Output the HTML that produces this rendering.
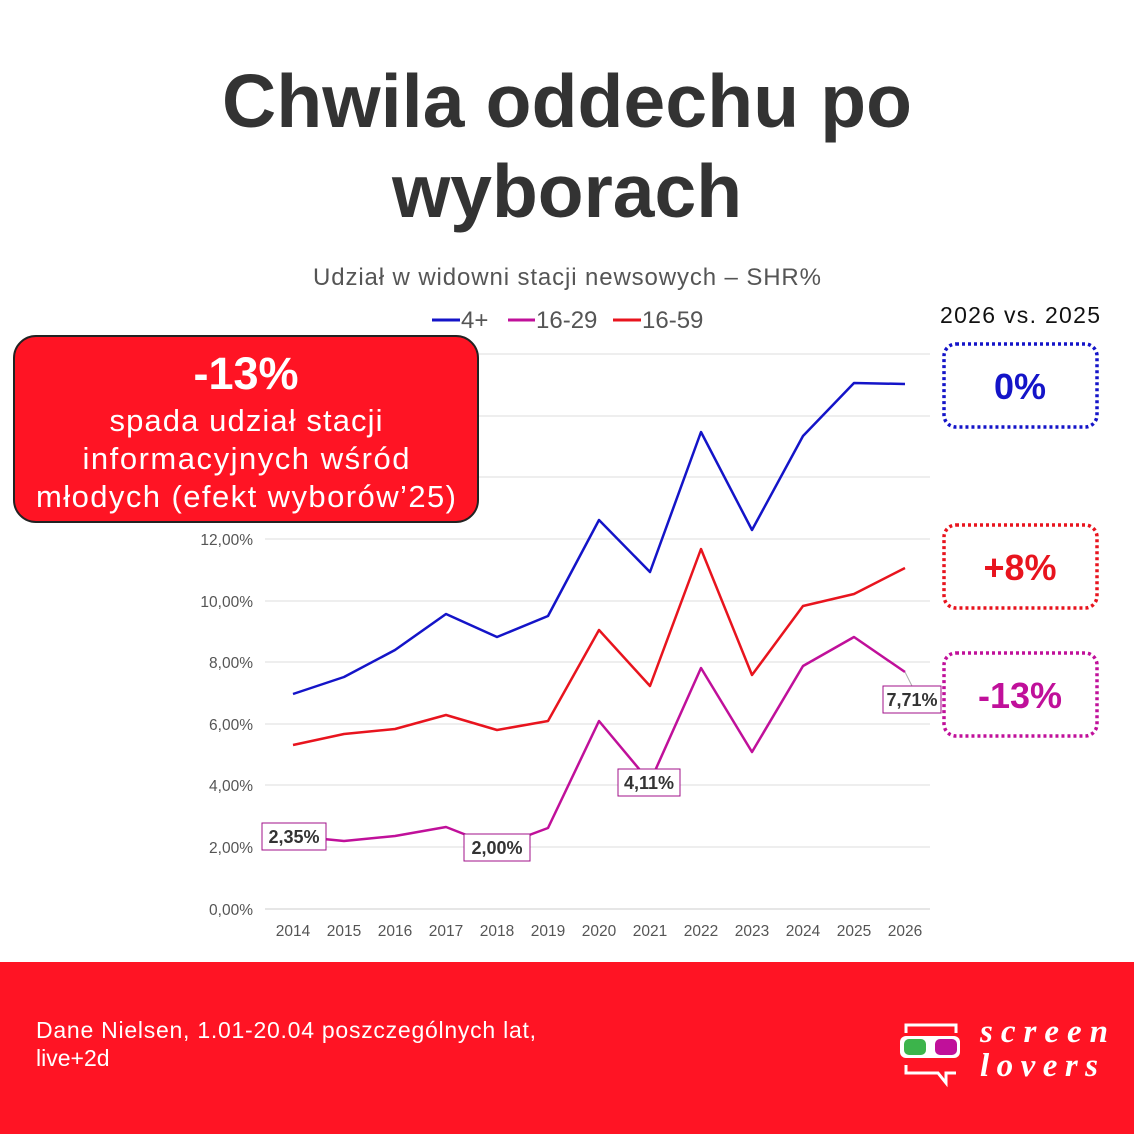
<!DOCTYPE html>
<html><head><meta charset="utf-8"><style>
body{margin:0;width:1134px;height:1134px;background:#fff;overflow:hidden;font-family:"Liberation Sans",sans-serif}
</style></head><body>
<svg width="1134" height="1134" xmlns="http://www.w3.org/2000/svg" font-family="Liberation Sans, sans-serif">
<text x="567" y="127" text-anchor="middle" font-size="75" font-weight="bold" fill="#333" textLength="690">Chwila oddechu po</text>
<text x="567" y="217" text-anchor="middle" font-size="75" font-weight="bold" fill="#333">wyborach</text>
<text x="567" y="285" text-anchor="middle" font-size="24" fill="#555" textLength="508">Udział w widowni stacji newsowych – SHR%</text>
<g font-size="24" fill="#555">
<line x1="432" y1="320" x2="460" y2="320" stroke="#1414c8" stroke-width="3"/><text x="461" y="328">4+</text>
<line x1="508" y1="320" x2="535" y2="320" stroke="#c0109a" stroke-width="3"/><text x="536" y="328">16-29</text>
<line x1="613" y1="320" x2="641" y2="320" stroke="#e8141e" stroke-width="3"/><text x="642" y="328">16-59</text>
</g>
<text x="1020" y="323" text-anchor="middle" font-size="23" fill="#111" textLength="160">2026 vs. 2025</text>
<g stroke="#ddd" stroke-width="1">
<line x1="265" y1="354" x2="930" y2="354"/><line x1="265" y1="416" x2="930" y2="416"/><line x1="265" y1="477" x2="930" y2="477"/><line x1="265" y1="539" x2="930" y2="539"/><line x1="265" y1="601" x2="930" y2="601"/><line x1="265" y1="662" x2="930" y2="662"/><line x1="265" y1="724" x2="930" y2="724"/><line x1="265" y1="785" x2="930" y2="785"/><line x1="265" y1="847" x2="930" y2="847"/>
<line x1="265" y1="909" x2="930" y2="909" stroke="#ccc"/>
</g>
<g font-size="15.5" fill="#555" text-anchor="end">
<text x="253" y="545">12,00%</text><text x="253" y="607">10,00%</text><text x="253" y="668">8,00%</text><text x="253" y="730">6,00%</text><text x="253" y="791">4,00%</text><text x="253" y="853">2,00%</text><text x="253" y="915">0,00%</text>
</g>
<g font-size="15.5" fill="#555" text-anchor="middle">
<text x="293" y="936">2014</text><text x="344" y="936">2015</text><text x="395" y="936">2016</text><text x="446" y="936">2017</text><text x="497" y="936">2018</text><text x="548" y="936">2019</text><text x="599" y="936">2020</text><text x="650" y="936">2021</text><text x="701" y="936">2022</text><text x="752" y="936">2023</text><text x="803" y="936">2024</text><text x="854" y="936">2025</text><text x="905" y="936">2026</text>
</g>
<g fill="none" stroke-width="2.5" stroke-linejoin="round">
<polyline stroke="#1414c8" points="293,694 344,677 395,650 446,614 497,637 548,616 599,520 650,572 701,432 752,530 803,436 854,383 905,384"/>
<polyline stroke="#e8141e" points="293,745 344,734 395,729 446,715 497,730 548,721 599,630 650,686 701,549 752,675 803,606 854,594 905,568"/>
<polyline stroke="#c0109a" points="293,836 344,841 395,836 446,827 497,847 548,828 599,721 650,782 701,668 752,752 803,666 854,637 905,672"/>
</g>
<line x1="905" y1="672" x2="912" y2="686" stroke="#aaa"/>
<g font-size="18" font-weight="bold" fill="#333" text-anchor="middle">
<rect x="262" y="823" width="64" height="27" fill="#fff" stroke="#a0108a"/><text x="294" y="843">2,35%</text>
<rect x="464" y="834" width="66" height="27" fill="#fff" stroke="#a0108a"/><text x="497" y="854">2,00%</text>
<rect x="618" y="769" width="62" height="27" fill="#fff" stroke="#a0108a"/><text x="649" y="789">4,11%</text>
<rect x="883" y="686" width="58" height="27" fill="#fff" stroke="#a0108a"/><text x="912" y="706">7,71%</text>
</g>
<rect x="14" y="336" width="464" height="186" rx="22" fill="#ff1424" stroke="#222" stroke-width="2"/>
<g fill="#fff" text-anchor="middle">
<text x="246" y="389" font-size="45" font-weight="bold">-13%</text>
<text x="246" y="431" font-size="31" textLength="273">spada udział stacji</text>
<text x="246" y="469" font-size="31" textLength="327">informacyjnych wśród</text>
<text x="246" y="507" font-size="31" textLength="420">młodych (efekt wyborów’25)</text>
</g>
<g fill="none" stroke-width="3.5" stroke-dasharray="3,3">
<rect x="944" y="344" width="153" height="83" rx="12" stroke="#1414c8"/>
<rect x="944" y="525" width="153" height="83" rx="12" stroke="#e8141e"/>
<rect x="944" y="653" width="153" height="83" rx="12" stroke="#c0109a"/>
</g>
<g font-size="36" font-weight="bold" text-anchor="middle">
<text x="1020" y="399" fill="#1414c8">0%</text>
<text x="1020" y="580" fill="#e8141e">+8%</text>
<text x="1020" y="708" fill="#c0109a">-13%</text>
</g>
<rect x="0" y="962" width="1134" height="172" fill="#ff1424"/>
<text x="36" y="1038" font-size="23" fill="#fff" textLength="500">Dane Nielsen, 1.01-20.04 poszczególnych lat,</text>
<text x="36" y="1066" font-size="23" fill="#fff">live+2d</text>
<g stroke="#fff" stroke-width="3" fill="none">
<path d="M906,1033 v-8 h50 v8 M906,1065 v8 h32 l8,10 v-10 h10"/>
</g>
<rect x="900" y="1036" width="60" height="22" rx="6" fill="#fff"/>
<rect x="904" y="1039" width="22" height="16" rx="5" fill="#3cb44b"/>
<rect x="935" y="1039" width="22" height="16" rx="5" fill="#c0109a"/>
<g font-size="33" font-weight="bold" font-style="italic" fill="#fff" font-family="Liberation Serif, serif">
<text x="980" y="1042" textLength="128">screen</text><text x="980" y="1076" textLength="118">lovers</text>
</g>
</svg>
</body></html>
